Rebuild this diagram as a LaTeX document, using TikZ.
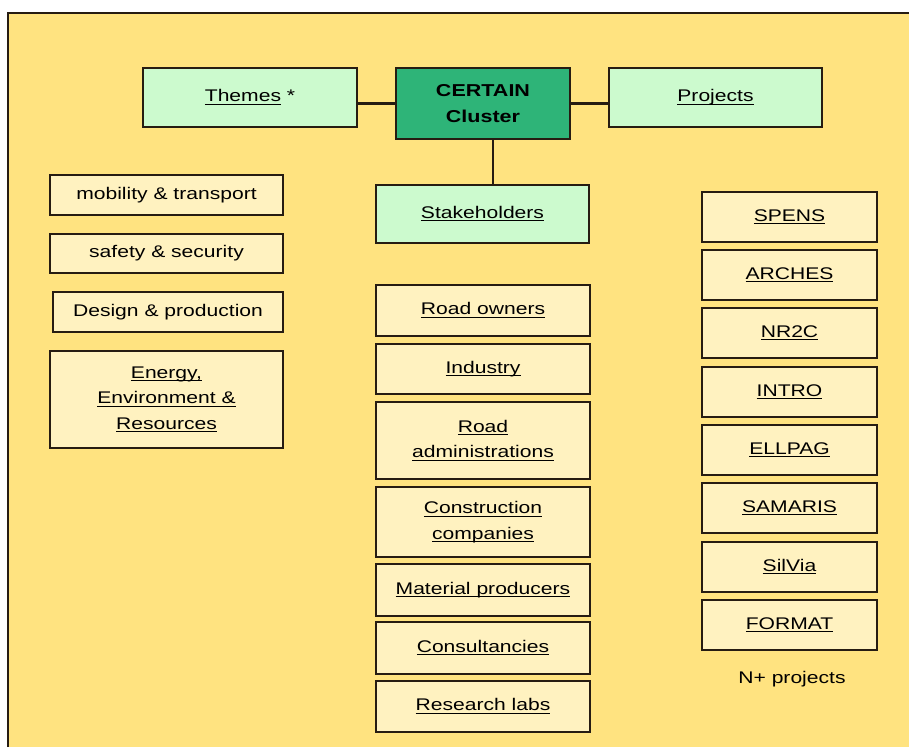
\documentclass[tikz,border=0pt]{standalone}
\usepackage{fontspec}
\newfontfamily\boxfont[FakeStretch=1.25]{Liberation Sans}
\definecolor{bgyellow}{RGB}{255,227,128}
\definecolor{boxcream}{RGB}{255,242,192}
\definecolor{mint}{RGB}{204,250,206}
\definecolor{clustergreen}{RGB}{46,180,120}
\definecolor{edgedark}{RGB}{38,28,18}
\newcommand{\lnk}[1]{\underline{\smash{#1}}\vphantom{#1}}
\tikzset{
  itembox/.style={draw=edgedark,line width=1.3pt,fill=boxcream,align=center,inner sep=2pt,
    text=black,font=\boxfont\fontsize{9.6}{14.5}\selectfont},
  headbox/.style={itembox,fill=mint},
  clusterbox/.style={itembox,fill=clustergreen,font=\boxfont\bfseries\fontsize{9.8}{14.5}\selectfont},
  boxsize/.style 2 args={minimum width=#1*0.02cm,minimum height=#2*0.02cm},
  link/.style={draw=edgedark,line width=1.3pt}
}
\begin{document}
\begin{tikzpicture}[x=0.02cm,y=-0.02cm]
		\useasboundingbox (0,0) rectangle (909,747);
		\fill[white] (0,0) rectangle (909,747);
		\fill[bgyellow] (8,13) rectangle (909,747);
		\draw[edgedark,line width=0.9pt] (8,747) -- (8,13) -- (909,13);
		% top row
		\node[headbox,boxsize={214}{59}] (themes) at (250,97.5) {\lnk{Themes} *};
		\node[clusterbox,boxsize={174}{71}] (cluster) at (483,103.5) {CERTAIN\\Cluster};
		\node[headbox,boxsize={213}{59}] (projects) at (715.5,97.5) {\lnk{Projects}};
		\node[headbox,boxsize={213}{58}] (stake) at (482.5,214) {\lnk{Stakeholders}};
		\draw[link] (cluster.west) -- (cluster.west -| themes.east);
		\draw[link] (cluster.east) -- (cluster.east -| projects.west);
		\draw[link] ([xshift=0.2cm]cluster.south) -- ([xshift=0.2cm]cluster.south |- stake.north);
		% themes
		\node[itembox,boxsize={233}{40}] (mobility) at (166.5,195) {mobility \& transport};
		\node[itembox,boxsize={233}{39}] (safety) at (166.5,253.5) {safety \& security};
		\node[itembox,boxsize={230}{40}] (design) at (168,312) {Design \& production};
		\node[itembox,boxsize={233}{97}] (energy) at (166.5,399.5)
			{\lnk{Energy,}\\\lnk{Environment \&}\\\lnk{Resources}};
		% stakeholders
		\node[itembox,boxsize={214}{51}] (roadown) at (483,310.5) {\lnk{Road owners}};
		\node[itembox,boxsize={214}{50}] (industry) at (483,369) {\lnk{Industry}};
		\node[itembox,boxsize={214}{77}] (roadadm) at (483,440.5) {\lnk{Road}\\\lnk{administrations}};
		\node[itembox,boxsize={214}{70}] (constr) at (483,522) {\lnk{Construction}\\\lnk{companies}};
		\node[itembox,boxsize={214}{52}] (material) at (483,590) {\lnk{Material producers}};
		\node[itembox,boxsize={214}{52}] (consult) at (483,648) {\lnk{Consultancies}};
		\node[itembox,boxsize={214}{51}] (research) at (483,706.5) {\lnk{Research labs}};
		% projects
		\node[itembox,boxsize={175}{50}] (spens) at (789.5,217) {\lnk{SPENS}};
		\node[itembox,boxsize={175}{50}] (arches) at (789.5,275) {\lnk{ARCHES}};
		\node[itembox,boxsize={175}{50}] (nrtwoc) at (789.5,333) {\lnk{NR2C}};
		\node[itembox,boxsize={175}{50}] (intro) at (789.5,392) {\lnk{INTRO}};
		\node[itembox,boxsize={175}{50}] (ellpag) at (789.5,450) {\lnk{ELLPAG}};
		\node[itembox,boxsize={175}{50}] (samaris) at (789.5,508) {\lnk{SAMARIS}};
		\node[itembox,boxsize={175}{50}] (silvia) at (789.5,567) {\lnk{SilVia}};
		\node[itembox,boxsize={175}{50}] (format) at (789.5,625) {\lnk{FORMAT}};
		\node[itembox,draw=none,fill=none] (nplus) at (792,679) {N+ projects};
	\end{tikzpicture}
\end{document}
